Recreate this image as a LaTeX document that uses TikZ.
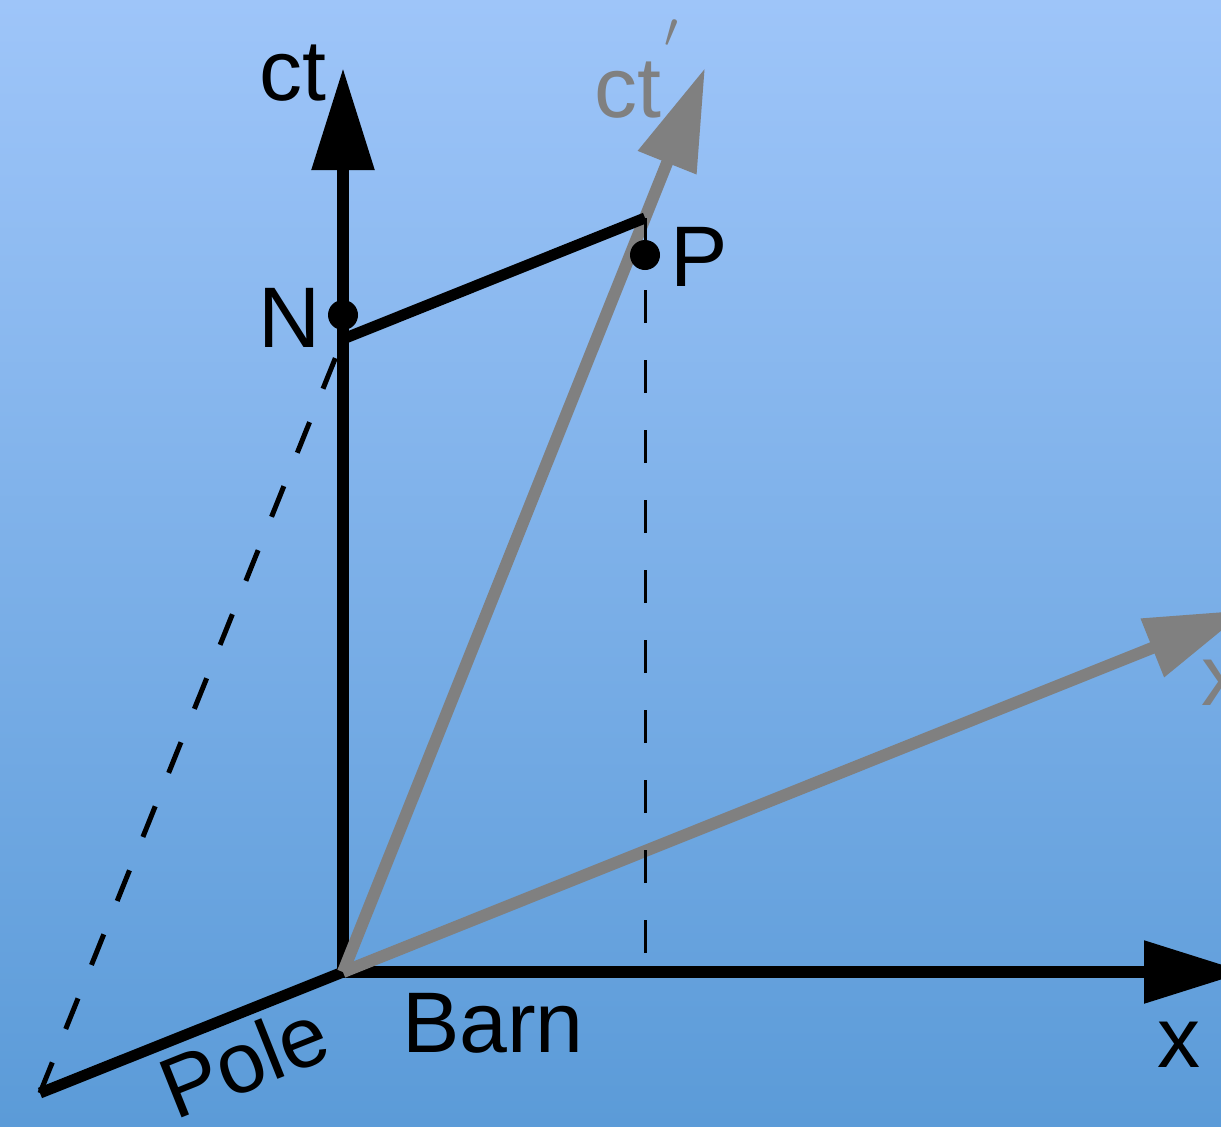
\documentclass[tikz,border=0pt]{standalone}
\usepackage{fontspec}
\setmainfont{Liberation Sans}
\usetikzlibrary{arrows.meta}
\definecolor{bgtop}{RGB}{158,197,249}
\definecolor{bgbot}{RGB}{91,155,216}
\definecolor{axgray}{RGB}{128,128,128}
\begin{document}
\begin{tikzpicture}[x=0.5pt,y=-0.5pt,
  blackaxis/.style={line width=6pt, draw=black, -{Triangle[length=51pt,width=30pt]}},
  grayaxis/.style={line width=6pt, draw=axgray, -{Triangle[length=51pt,width=30pt]}},
  thickline/.style={line width=5.5pt, draw=black},
  poleline/.style={line width=5.5pt, draw=black},
  poledash/.style={line width=2.5pt, draw=black, dash pattern=on 16.5pt off 18pt},
  thinline/.style={line width=1.5pt, draw=black},
  vdash/.style={line width=1.5pt, draw=black, dash pattern=on 16.5pt off 18.5pt},
  lbl/.style={font=\fontsize{43}{50}\selectfont, inner sep=0pt, anchor=base},
  dot/.style={circle, fill=black, minimum size=15pt, inner sep=0pt},
]
\useasboundingbox (0,0) rectangle (1221,1126);
\clip (0,0) rectangle (1221,1126);
\shade[top color=bgtop, bottom color=bgbot] (0,0) rectangle (1221,1126);

\coordinate (O) at (343,972);
\coordinate (ctT) at (343,68);
\coordinate (xT) at (1246,972);
\coordinate (ctpT) at (705,68);
\coordinate (xpT) at (1247,610);
\coordinate (A) at (40,1093);
\coordinate (Q) at (343,339);
\coordinate (R) at (645,218);
\coordinate (Pd1) at (645,290);
\coordinate (Pd2) at (645,960);

\draw[blackaxis] (O) -- (ctT);
\draw[blackaxis] (O) -- (xT);
\draw[poleline] (O) -- (A);
\draw[poledash] (A) -- (Q);
\draw[grayaxis] (O) -- (ctpT);
\draw[grayaxis] (O) -- (xpT);
\draw[thickline] (Q) -- (R);
\draw[vdash] (Pd1) -- (Pd2);

\node[dot] (N) at (343,315) {};
\node[dot] (P) at (645,255) {};
\draw[thinline] (R) -- (P.north);

\node[lbl] (lct) at (293,100) {ct};
\node[lbl, anchor=base west, text=axgray] (lctp) at (594.5,117) {ct\hspace{1.5pt}\raisebox{35pt}{\fontsize{23}{23}\selectfont$\prime$}};
\node[lbl] (lN) at (289.5,347) {N};
\node[lbl] (lP) at (699,286) {P};
\node[lbl] (lx) at (1179,1067) {x};
\node[lbl, anchor=base west, text=axgray] (lxp) at (1201,705) {x\hspace{1.5pt}\raisebox{35pt}{\fontsize{23}{23}\selectfont$\prime$}};
\node[lbl] (lbarn) at (493,1052) {Barn};
\node[lbl, rotate=21.8] (lpole) at (255,1089) {Pole};
\end{tikzpicture}
\end{document}
